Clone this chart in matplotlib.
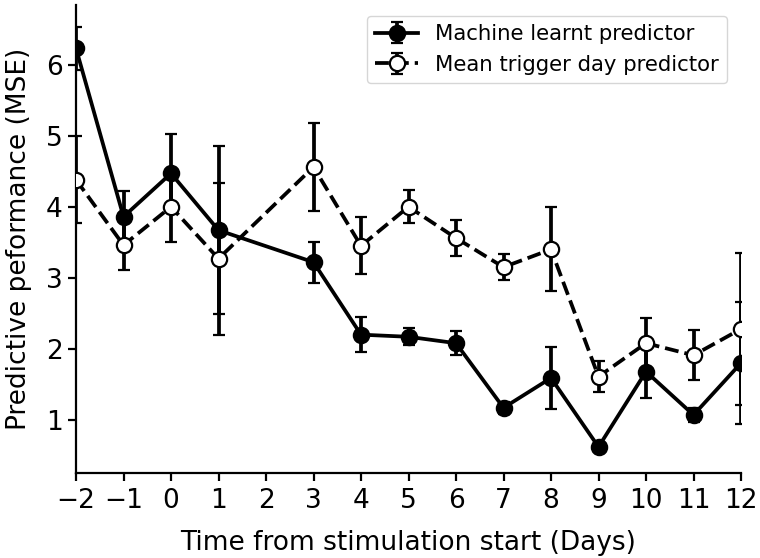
import matplotlib
matplotlib.use("Agg")
import matplotlib.pyplot as plt

days = [-2, -1, 0, 1, 3, 4, 5, 6, 7, 8, 9, 10, 11, 12]
ml_mse = [6.23, 3.86, 4.47, 3.67, 3.22, 2.20, 2.17, 2.08, 1.17, 1.59, 0.62, 1.68, 1.07, 1.80]
ml_err = [0.30, 0.36, 0.55, 1.18, 0.29, 0.25, 0.12, 0.17, 0.08, 0.44, 0.03, 0.37, 0.10, 0.86]
mean_mse = [4.38, 3.46, 4.00, 3.27, 4.56, 3.45, 4.00, 3.56, 3.15, 3.40, 1.61, 2.08, 1.91, 2.28]
mean_err = [0.61, 0.35, 0.50, 1.07, 0.62, 0.40, 0.23, 0.25, 0.18, 0.59, 0.22, 0.36, 0.35, 1.07]
xticks = list(range(-2, 13))
yticks = [1, 2, 3, 4, 5, 6]

fig = plt.figure(figsize=(7.6, 5.58), dpi=100)
ax = fig.add_axes([0.1, 0.152, 0.875, 0.839])

ax.errorbar(days, ml_mse, yerr=ml_err, color="black", linestyle="-", linewidth=2.7,
            marker="o", markersize=11, markerfacecolor="black", markeredgecolor="black",
            markeredgewidth=1.6, capsize=4, capthick=2.2, elinewidth=2.7,
            label="Machine learnt predictor", zorder=3)
ax.errorbar(days, mean_mse, yerr=mean_err, color="black", linestyle="--", linewidth=2.7,
            marker="o", markersize=11, markerfacecolor="white", markeredgecolor="black",
            markeredgewidth=1.6, capsize=4, capthick=2.2, elinewidth=2.7,
            label="Mean trigger day predictor", zorder=3)

ax.set_xlim(-2, 12)
ax.set_ylim(0.25, 6.84)
ax.set_xticks(xticks)
ax.set_yticks(yticks)
ax.spines["top"].set_visible(False)
ax.spines["right"].set_visible(False)
for s in ["left", "bottom"]:
    ax.spines[s].set_linewidth(1.6)
ax.tick_params(axis="both", labelsize=19, length=6, width=1.6)
ax.tick_params(axis="x", pad=5)
ax.set_xlabel("Time from stimulation start (Days)", fontsize=19, labelpad=11)
ax.set_ylabel("Predictive peformance (MSE)", fontsize=19, labelpad=10)
ax.legend(loc="upper right", fontsize=15.3, frameon=True, handlelength=2,
          bbox_to_anchor=(0.995, 1.0))

fig.savefig("out.png", dpi=100)
